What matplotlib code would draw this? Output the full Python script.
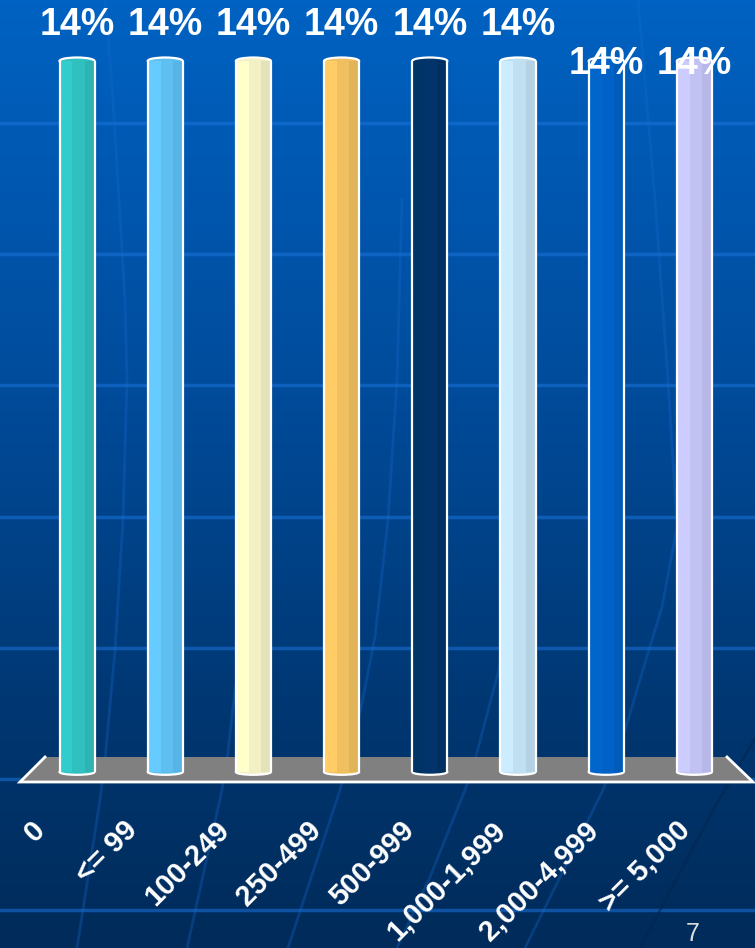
import numpy as np
import matplotlib
matplotlib.use("Agg")
import matplotlib.pyplot as plt
from matplotlib.patches import Ellipse, Polygon
from matplotlib.colors import LinearSegmentedColormap

# ---------------- data ----------------
categories = ["0", "<= 99", "100-249", "250-499", "500-999",
              "1,000-1,999", "2,000-4,999", ">= 5,000"]
values = [14, 14, 14, 14, 14, 14, 14, 14]
value_labels = ["14%", "14%", "14%", "14%", "14%", "14%", "14%", "14%"]

# ---------------- style ----------------
light_cols = ["#33CCCC", "#66CCFF", "#FFFFCC", "#FFCC66", "#003366", "#CCECFF", "#0066CC", "#CCCCFF"]
mid_cols   = ["#31C0C0", "#5FC0F0", "#F2F0C4", "#F0C060", "#00346A", "#C0DFF0", "#0062C6", "#C2C2F2"]
dark_cols  = ["#2EB2B2", "#57B4E6", "#E4E2B8", "#E2B45A", "#00305F", "#B4D2E4", "#005CBA", "#B8B8E8"]
label_dy = [0.71, 0.71, 0.71, 0.71, 0.71, 0.71, -0.06, -0.06]
FONT = "Liberation Sans"

W, H = 755, 948
fig = plt.figure(figsize=(W / 100, H / 100), dpi=100)
ax = fig.add_axes([0, 0, 1, 1])

px_per_x = 88.2
px_per_y = (772 - 61) / 14.0
x0_px, y0_px = 77, 772
ax.set_xlim(-x0_px / px_per_x, (W - x0_px) / px_per_x)
ax.set_ylim(-(H - y0_px) / px_per_y, 14 + 61 / px_per_y)
ax.axis("off")

# background gradient
cmap = LinearSegmentedColormap.from_list(
    "bg", [(0.0, "#0062C2"), (0.4, "#004C9C"), (0.8, "#00346C"), (1.0, "#002B5A")])
grad = np.linspace(0, 1, 256).reshape(-1, 1)
ax.imshow(grad, cmap=cmap, extent=[0, 1, 0, 1], transform=ax.transAxes,
          aspect="auto", zorder=0, origin="upper")

def pix(pts):
    pts = np.asarray(pts, float)
    return pts[:, 0] / W, 1 - pts[:, 1] / H

# horizontal template lines
for k in range(7):
    yy = 123 + 131.2 * k
    ax.plot([0, 1], [1 - yy / H] * 2, transform=ax.transAxes,
            color="#1A72DA", alpha=0.55, lw=2.5, zorder=0.5)

# faint curved template lines
curves = [
    [(105, 0), (113, 100), (125, 300), (127, 380), (123, 520), (115, 650), (105, 760), (100, 800), (77, 948)],
    [(245, 640), (235, 690), (227, 760), (222, 790), (187, 948)],
    [(402, 200), (397, 380), (388, 520), (375, 637), (362, 703), (350, 755), (340, 790), (288, 948)],
    [(505, 640), (498, 673), (475, 760), (465, 790), (430, 877), (397, 948)],
    [(638, 0), (655, 200), (668, 380), (677, 527), (662, 607), (648, 653), (625, 730), (603, 790), (525, 948)],
]
for c in curves:
    xs, ys = pix(c)
    ax.plot(xs, ys, transform=ax.transAxes, color="#1A6AD0", alpha=0.3, lw=2, zorder=0.5)
xs, ys = pix([(760, 730), (713, 810), (640, 948)])
ax.plot(xs, ys, transform=ax.transAxes, color="#002650", alpha=0.5, lw=2, zorder=0.5)

# floor
ytop = (y0_px - 757) / px_per_y
ybot = (y0_px - 782) / px_per_y
floor = [((45 - x0_px) / px_per_x, ytop), ((727 - x0_px) / px_per_x, ytop),
         ((753 - x0_px) / px_per_x, ybot), ((20 - x0_px) / px_per_x, ybot)]
ax.add_patch(Polygon(floor, closed=True, facecolor="#808080", edgecolor="none", zorder=1))
fx = [floor[1][0], floor[2][0], floor[3][0], floor[0][0]]
fy = [floor[1][1], floor[2][1], floor[3][1], floor[0][1]]
ax.plot(fx, fy, color="white", lw=2, zorder=1.2, solid_joinstyle="miter")

# cylinders
x = np.arange(len(categories))
w = 35 / px_per_x
cap_h = 7 / px_per_y
bands = [(0.0, 0.37), (0.37, 0.72), (0.72, 1.0)]
for i, v in enumerate(values):
    cols = [light_cols[i], mid_cols[i], dark_cols[i]]
    ax.add_patch(Ellipse((x[i], 0), w, cap_h * 0.8, facecolor=mid_cols[i],
                         edgecolor="white", lw=1.6, zorder=2))
    ax.add_patch(Ellipse((x[i], v), w, cap_h, facecolor=mid_cols[i],
                         edgecolor="white", lw=1.6, zorder=2))
    for (a, b), col in zip(bands, cols):
        ax.bar(x[i] - w / 2 + a * w, v, width=(b - a) * w, bottom=0, align="edge",
               color=col, edgecolor="none", zorder=3)
    ax.vlines([x[i] - w / 2, x[i] + w / 2], 0, v, colors="white", lw=1.6, zorder=4)

# value labels
for i, v in enumerate(values):
    ax.text(x[i], v + label_dy[i], value_labels[i], ha="center", va="center",
            fontsize=27, fontweight="bold", color="white", family=FONT, zorder=6)

# category labels (rotated)
lab_y = (y0_px - 826) / px_per_y
for i, c in enumerate(categories):
    lx = x[i] * (92.1 / px_per_x) + (41 - x0_px) / px_per_x
    ax.text(lx, lab_y, c, rotation=45, rotation_mode="anchor", ha="right", va="center",
            fontsize=21, fontweight="bold", color="white", family=FONT, zorder=6)

# page number
fig.text(693 / W, 1 - 922 / H, "7", ha="center", va="top", fontsize=18,
         color="#DDDDDD", family=FONT)

fig.savefig("out.png", dpi=100)
